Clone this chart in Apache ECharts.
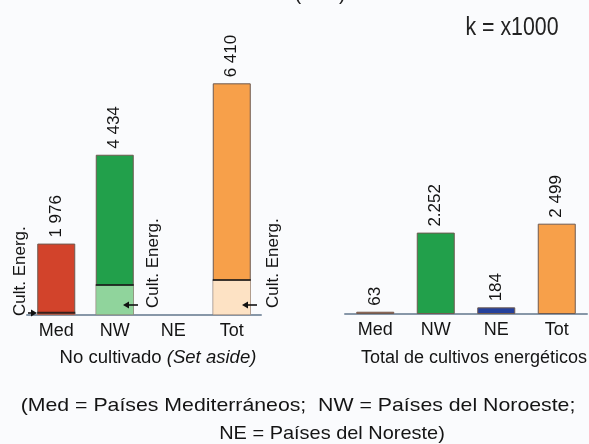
<!DOCTYPE html>
<html>
<head>
<meta charset="utf-8">
<script src="https://cdn.jsdelivr.net/npm/echarts@6/dist/echarts.min.js"></script>
<style>html,body{margin:0;padding:0;background:#fafbfd;}#c{width:589px;height:444px;}</style>
</head>
<body>
<div id="c"></div>
<script>
// ---- data ----
var categories = ['Med', 'NW', 'NE', 'Tot'];
var setAsideTotal = [1976, 4434, null, 6410];
var setAsideEnergy = [60, 830, null, 970];
var setAsideLabels = ['1 976', '4 434', '', '6 410'];
var energyTotal = [63, 2252, 184, 2499];
var energyLabels = ['63', '2.252', '184', '2 499'];

// ---- styles ----
var mainColors = ['#d2432b', '#22a04b', '#2a45a0', '#f7a04a'];
var lightColors = ['#d2432b', '#90d49c', '#b8c4e6', '#fde2c4'];
var rightColors = ['#c9633b', '#22a04b', '#24409c', '#f7a04a'];
var FONT = '"Liberation Sans", Arial, Helvetica, sans-serif';
var INK = '#141414';

var chart = echarts.init(document.getElementById('c'));

function dataWithColor(vals, colors) {
  return vals.map(function (v, i) {
    return { value: v == null ? '-' : v, itemStyle: { color: colors[i] } };
  });
}

var valueLabel = function (labels) {
  return {
    show: true, position: 'top', rotate: 90, distance: 6,
    align: 'left', verticalAlign: 'middle',
    fontFamily: FONT, fontSize: 17, color: INK,
    formatter: function (p) { return labels[p.dataIndex]; }
  };
};

var xAxisBase = function (gi) {
  return {
    type: 'category', gridIndex: gi, data: categories,
    axisTick: { show: false },
    axisLine: { lineStyle: { color: '#8797a8', width: 2 } },
    axisLabel: { fontFamily: FONT, fontSize: 18, color: INK, margin: 7 }
  };
};

function arrow(x1, x2, y) {
  var dir = x2 > x1 ? 1 : -1;
  return {
    type: 'group', silent: true, z: 50, children: [
      { type: 'line', z: 50, shape: { x1: x1, y1: y, x2: x2 - dir * 3, y2: y }, style: { stroke: '#111', lineWidth: 1.6 } },
      { type: 'polygon', z: 50, shape: { points: [[x2, y], [x2 - dir * 6, y - 3.5], [x2 - dir * 6, y + 3.5]] }, style: { fill: '#111' } }
    ]
  };
}

function vtext(txt, x, y) {
  return {
    type: 'text', x: x, y: y, rotation: Math.PI / 2, silent: true, z: 50,
    style: { text: txt, font: '17px ' + FONT, fill: INK, textAlign: 'left', textVerticalAlign: 'middle' }
  };
}

function htext(txt, x, y, size, sx) {
  return {
    type: 'text', x: x, y: y, silent: true, z: 50, scaleX: sx || 1,
    style: { text: txt, font: size + 'px ' + FONT, fill: INK, textAlign: 'center', textVerticalAlign: 'middle' }
  };
}

var option = {
  backgroundColor: '#fafbfd',
  animation: false,
  grid: [
    { left: 27, width: 234, top: 62, height: 253 },
    { left: 345, width: 242, top: 61, height: 253 }
  ],
  xAxis: [xAxisBase(0), xAxisBase(1)],
  yAxis: [
    { type: 'value', gridIndex: 0, min: 0, max: 7000, show: false },
    { type: 'value', gridIndex: 1, min: 0, max: 7000, show: false }
  ],
  series: [
    {
      type: 'bar', xAxisIndex: 0, yAxisIndex: 0, barWidth: 38, z: 2,
      data: dataWithColor(setAsideTotal, mainColors),
      itemStyle: { borderColor: '#6e5a50', borderWidth: 1 },
      label: valueLabel(setAsideLabels)
    },
    {
      type: 'bar', xAxisIndex: 0, yAxisIndex: 0, barWidth: 38, barGap: '-100%', z: 3,
      data: dataWithColor(setAsideEnergy, lightColors),
      itemStyle: { borderColor: '#9a8a80', borderWidth: 0.5 }
    },
    {
      type: 'scatter', xAxisIndex: 0, yAxisIndex: 0, z: 4,
      symbol: 'rect', symbolSize: [38, 2],
      itemStyle: { color: '#151515' },
      data: setAsideEnergy.map(function (v) { return v == null ? '-' : v; })
    },
    {
      type: 'bar', xAxisIndex: 1, yAxisIndex: 1, barWidth: 38,
      data: dataWithColor(energyTotal, rightColors),
      itemStyle: { borderColor: '#6e5a50', borderWidth: 1 },
      label: valueLabel(energyLabels)
    }
  ],
  graphic: [
    { type: 'text', x: 320, y: 4, silent: true,
      style: { text: '(k ha)', font: '20px ' + FONT, fill: '#222', textAlign: 'center', textVerticalAlign: 'bottom' } },
    { type: 'text', x: 512, y: 28, silent: true, scaleX: 0.82,
      style: { text: 'k = x1000', font: '26px ' + FONT, fill: '#222', textAlign: 'center', textVerticalAlign: 'middle' } },
    vtext('Cult. Energ.', 20, 316),
    vtext('Cult. Energ.', 153, 308),
    vtext('Cult. Energ.', 273, 308),
    arrow(28, 37, 313),
    arrow(138, 123, 305),
    arrow(257, 242, 305),
    { type: 'text', x: 158, y: 358, silent: true, z: 50, scaleX: 1.03,
      style: { text: '{a|No cultivado }{b|(Set aside)}', textAlign: 'center', textVerticalAlign: 'middle',
        rich: { a: { font: '18px ' + FONT, fill: INK }, b: { font: 'italic 18px ' + FONT, fill: INK } } } },
    htext('Total de cultivos energéticos', 474, 358, 18, 1),
    htext('(Med = Países Mediterráneos;  NW = Países del Noroeste;', 298, 406, 19, 1.12),
    htext('NE = Países del Noreste)', 332, 434, 19, 1.05)
  ]
};
chart.setOption(option);
</script>
</body>
</html>
